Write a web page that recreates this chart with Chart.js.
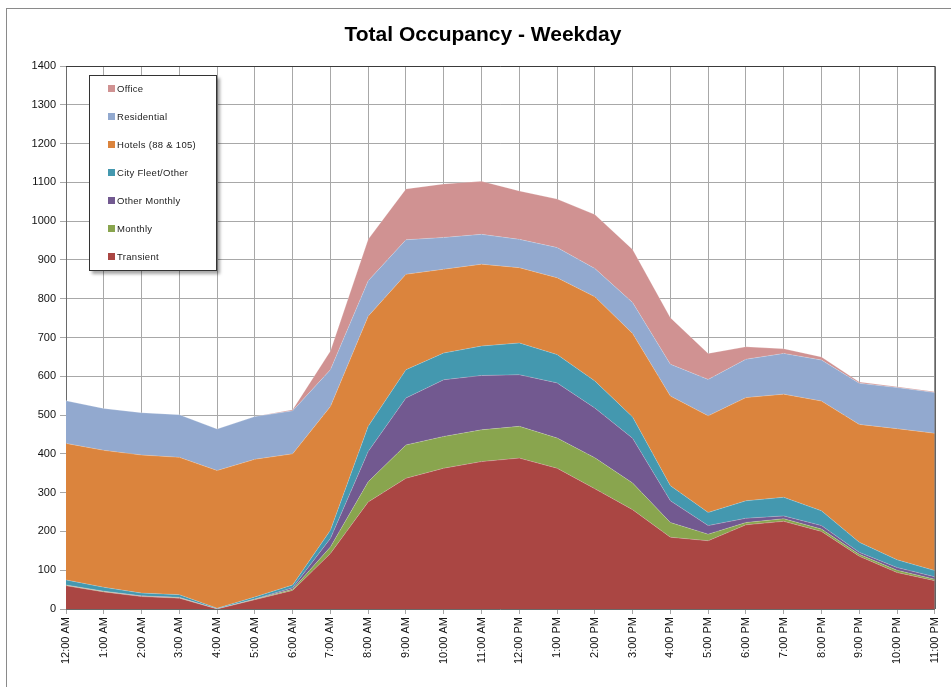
<!DOCTYPE html>
<html>
<head>
<meta charset="utf-8">
<title>Total Occupancy - Weekday</title>
<script src="https://cdn.jsdelivr.net/npm/chart.js@4"></script>
<style>
    body { margin: 0; background: #fff; font-family: 'Liberation Sans', Arial, sans-serif; }
    #wrap { position: relative; width: 951px; height: 687px; overflow: hidden; }
    #frame { position: absolute; left: 6px; top: 8px; width: 960px; height: 690px; border-left: 1px solid #8a8a8a; border-top: 1px solid #8a8a8a; }
    #title { position: absolute; left: 0; top: 22px; width: 966px; text-align: center; font-weight: bold; font-size: 21px; color: #000; }
    #occupancyChart { position: absolute; left: 0; top: 0; }
    #legend { position: absolute; left: 89px; top: 75px; width: 126px; height: 194px; background: #fff; border: 1px solid #333; box-shadow: 3px 3px 3px rgba(0,0,0,0.35); }
    .legend-item { position: absolute; left: 18px; font-size: 9.5px; letter-spacing: 0.3px; color: #222; line-height: 12px; }
    .legend-item span { display: inline-block; width: 7px; height: 7px; margin-right: 2px; vertical-align: 0px; }
</style>
</head>
<body>
<div id="wrap">
    <div id="frame"></div>
    <canvas id="occupancyChart" width="951" height="687"></canvas>
    <div id="title">Total Occupancy - Weekday</div>
    <div id="legend"></div>
</div>
<script>
const hours = ['12:00 AM', '1:00 AM', '2:00 AM', '3:00 AM', '4:00 AM', '5:00 AM', '6:00 AM', '7:00 AM',
    '8:00 AM', '9:00 AM', '10:00 AM', '11:00 AM', '12:00 PM', '1:00 PM', '2:00 PM', '3:00 PM',
    '4:00 PM', '5:00 PM', '6:00 PM', '7:00 PM', '8:00 PM', '9:00 PM', '10:00 PM', '11:00 PM'];

// bottom of the stack first
const transient    = [60, 44, 32, 28, 0, 24, 48, 143, 276, 337, 363, 380, 389, 363, 310, 256, 185, 176, 217, 226, 200, 136, 94, 73];
const monthly      = [1, 1, 1, 1, 0, 1, 3, 17, 52, 86, 82, 82, 82, 78, 80, 69, 38, 17, 6, 7, 6, 5, 6, 4];
const otherMonthly = [1, 1, 1, 1, 0, 1, 4, 22, 78, 121, 146, 140, 133, 142, 128, 115, 56, 22, 11, 7, 9, 5, 7, 6];
const cityFleet    = [13, 10, 7, 7, 2, 5, 7, 21, 65, 73, 69, 76, 82, 73, 70, 55, 39, 34, 45, 48, 38, 26, 20, 16];
const hotels       = [352, 353, 356, 354, 355, 355, 338, 319, 284, 246, 216, 211, 194, 198, 217, 215, 231, 249, 266, 266, 283, 304, 338, 354];
const residential  = [110, 108, 109, 110, 107, 110, 111, 95, 91, 89, 82, 77, 73, 78, 73, 80, 82, 94, 99, 105, 106, 106, 106, 105];
const office       = [0, 0, 0, 0, 0, 0, 3, 48, 107, 131, 138, 137, 125, 125, 139, 137, 120, 67, 32, 12, 8, 3, 2, 2];

const seriesNames  = ['Transient', 'Monthly', 'Other Monthly', 'City Fleet/Other', 'Hotels (88 & 105)', 'Residential', 'Office'];
const seriesData   = [transient, monthly, otherMonthly, cityFleet, hotels, residential, office];
const seriesColors = ['#AA4643', '#89A54E', '#725990', '#4498AF', '#DB843D', '#92A9CF', '#D09292'];

const yTicks = { min: 0, max: 1400, step: 100 };

let occupancyChart = null;

// dark frame round the plot area (top and right edges)
const plotFrame = {
    id: 'plotFrame',
    afterDraw(chart) {
        const { ctx, chartArea } = chart;
        ctx.save();
        ctx.strokeStyle = '#3a3a3a';
        ctx.lineWidth = 1;
        ctx.beginPath();
        ctx.moveTo(chartArea.left, chartArea.top + 0.5);
        ctx.lineTo(chartArea.right + 0.5, chartArea.top + 0.5);
        ctx.lineTo(chartArea.right + 0.5, chartArea.bottom);
        ctx.stroke();
        ctx.restore();
    }
};

function buildLegend() {
    const box = document.getElementById('legend');
    // legend lists the top of the stack first
    const order = seriesNames.map((n, i) => i).reverse();
    box.innerHTML = order.map((i, row) => `
        <div class="legend-item" style="top: ${7 + row * 28}px;">
            <span style="background: ${seriesColors[i]};"></span>${seriesNames[i]}
        </div>
    `).join('');
}

function createChart() {
    const ctx = document.getElementById('occupancyChart').getContext('2d');

    const datasets = seriesNames.map((name, i) => ({
        label: name,
        data: seriesData[i],
        backgroundColor: seriesColors[i],
        borderColor: 'rgba(255,255,255,0.35)',
        borderWidth: 0.6,
        pointRadius: 0,
        tension: 0,
        fill: i === 0 ? 'origin' : '-1'
    }));

    occupancyChart = new Chart(ctx, {
        type: 'line',
        data: { labels: hours, datasets: datasets },
        options: {
            responsive: false,
            animation: false,
            devicePixelRatio: 1,
            layout: { padding: { left: 0, top: 66, right: 16, bottom: 0 } },
            plugins: {
                legend: { display: false },
                title: { display: false },
                tooltip: { enabled: false }
            },
            scales: {
                x: {
                    offset: false,
                    grid: { color: '#a8a8a8', tickLength: 5, drawOnChartArea: true },
                    border: { display: true, color: '#6a6a6a' },
                    ticks: {
                        autoSkip: false,
                        minRotation: 90,
                        maxRotation: 90,
                        padding: 3,
                        color: '#111',
                        font: { family: 'Liberation Sans', size: 11 }
                    },
                    afterFit: scale => { scale.height = 78; }
                },
                y: {
                    stacked: true,
                    min: yTicks.min,
                    max: yTicks.max,
                    grid: { color: '#a8a8a8', tickLength: 6 },
                    border: { display: true, color: '#6a6a6a' },
                    ticks: {
                        stepSize: yTicks.step,
                        padding: 4,
                        color: '#111',
                        font: { family: 'Liberation Sans', size: 11 },
                        callback: value => String(value)
                    },
                    afterFit: scale => { scale.width = 66; }
                }
            }
        },
        plugins: [plotFrame]
    });
}

document.addEventListener('DOMContentLoaded', () => {
    buildLegend();
    createChart();
});
</script>
</body>
</html>
